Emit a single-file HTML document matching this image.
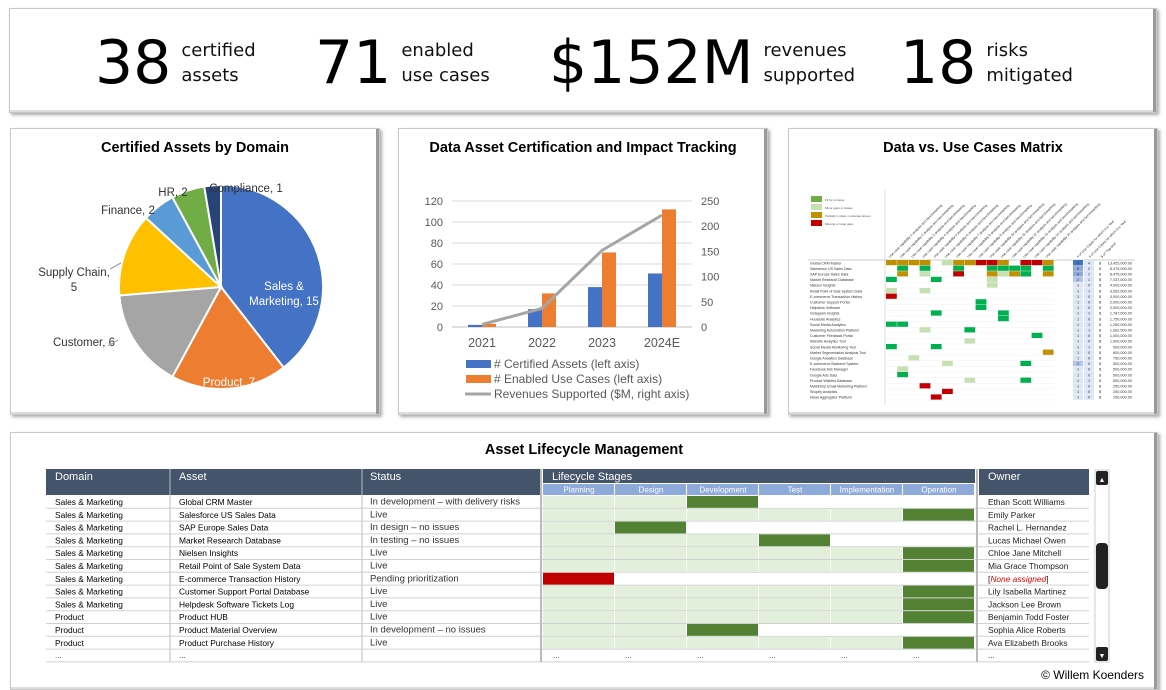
<!DOCTYPE html>
<html><head><meta charset="utf-8"><style>
body{margin:0;width:1166px;height:690px;background:#fff;font-family:"Liberation Sans","DejaVu Sans",sans-serif;position:relative;overflow:hidden}
.panel{position:absolute;background:#fff;border:1px solid #c8c8c8;box-shadow:-3px 0 0 #9a9a9a inset,0 -2px 0 #ddd inset,2px 2px 3px #aaa}
.kpi{position:absolute;top:24px;display:flex;align-items:center}
.kpi .n{font-family:"DejaVu Sans",sans-serif;font-size:60px;color:#000;line-height:60px}
.kpi .l{font-family:"DejaVu Sans",sans-serif;font-size:18px;line-height:25px;margin-left:10px;color:#111}
.title{position:absolute;left:0;right:0;text-align:center;font-weight:bold;font-size:14.5px;color:#000}
svg text{font-family:"Liberation Sans","DejaVu Sans",sans-serif}
</style></head><body>
<div class="panel" style="left:9px;top:8px;width:1146px;height:103px">
<div class="kpi" style="left:85px"><span class="n">38</span><span class="l">certified<br>assets</span></div>
<div class="kpi" style="left:305px"><span class="n">71</span><span class="l">enabled<br>use cases</span></div>
<div class="kpi" style="left:539px"><span class="n">$152M</span><span class="l">revenues<br>supported</span></div>
<div class="kpi" style="left:890px"><span class="n">18</span><span class="l">risks<br>mitigated</span></div>
</div>

<div class="panel" style="left:10px;top:128px;width:368px;height:285px">
<div class="title" style="top:11px">Certified Assets by Domain</div>
</div>
<div class="panel" style="left:398px;top:128px;width:368px;height:285px">
<div class="title" style="top:11px">Data Asset Certification and Impact Tracking</div>
</div>
<div class="panel" style="left:788px;top:128px;width:368px;height:285px">
<div class="title" style="top:11px">Data vs. Use Cases Matrix</div>
</div>
<div class="panel" style="left:10px;top:432px;width:1146px;height:256px">
<div class="title" style="top:9px">Asset Lifecycle Management</div>
</div>
<div style="position:absolute;right:22px;top:668px;font-size:12px">© Willem Koenders</div>

<svg id="main" width="1166" height="690" style="position:absolute;left:0;top:0"></svg>

<script>
const NS="http://www.w3.org/2000/svg";
const svg=document.getElementById('main');
function mk(tag,attrs,parent){const e=document.createElementNS(NS,tag);for(const k in attrs)e.setAttribute(k,attrs[k]);(parent||svg).appendChild(e);return e;}
function txt(x,y,s,attrs,parent){const t=mk('text',Object.assign({x:x,y:y},attrs||{}),parent);t.textContent=s;return t;}

// ---------- Pie ----------
const pieLabels=["Sales & Marketing","Product","Customer","Supply Chain","Finance","HR","Compliance"];
const pieValues=[15,7,6,5,2,2,1];
const pieColors=["#4472c4","#ed7d31","#a5a5a5","#ffc000","#5b9bd5","#70ad47","#264478"];
const pcx=221,pcy=287,pr=102;
const ptotal=pieValues.reduce((a,b)=>a+b,0);
let ang=-Math.PI/2;
const labelPos=[[284,290,"middle",["Sales &","Marketing, 15"]],[229,386,"middle",["Product, 7"]],[84,346,"middle",["Customer, 6"]],[74,276,"middle",["Supply Chain,","5"]],[128,214,"middle",["Finance, 2"]],[173,196,"middle",["HR, 2"]],[246,192,"middle",["Compliance, 1"]]];
pieValues.forEach((v,i)=>{
  const a2=ang+v/ptotal*2*Math.PI;
  const x1=pcx+pr*Math.cos(ang),y1=pcy+pr*Math.sin(ang),x2=pcx+pr*Math.cos(a2),y2=pcy+pr*Math.sin(a2);
  const p=mk('path',{d:`M${pcx},${pcy}L${x1},${y1}A${pr},${pr} 0 ${a2-ang>Math.PI?1:0} 1 ${x2},${y2}Z`,fill:pieColors[i],stroke:'#fff','stroke-width':2});
  
  
  const L=labelPos[i];
  L[3].forEach((s,k)=>{const t=txt(L[0],L[1]+k*15,s,{'text-anchor':L[2],'font-size':11.5,fill:i==0||i==1?'#fff':'#333'});
    
    });
  ang=a2;
});
mk('line',{x1:110,y1:269,x2:121,y2:263,stroke:'#999'});
mk('line',{x1:108,y1:346,x2:118,y2:340,stroke:'#999'});

// ---------- Combo chart ----------
const years=["2021","2022","2023","2024E"];
const certAssets=[2,17,38,51];
const useCases=[3,32,71,112];
const revenues=[5,37,152,222];
const leftTicks=[0,20,40,60,80,100,120];
const rightTicks=[0,50,100,150,200,250];
const cx0=452,cx1=692,cy0=327,cy1=201;
const yL=v=>cy0-(v/120)*(cy0-cy1);
const yR=v=>cy0-(v/250)*(cy0-cy1);
const bw=(cx1-cx0)/years.length;
leftTicks.forEach(t=>{
  const g=mk('line',{x1:cx0,x2:cx1,y1:yL(t),y2:yL(t),stroke:t==0?'#bfbfbf':'#d9d9d9'});
  
  
  const l=txt(443,yL(t)+4,String(t),{'text-anchor':'end','font-size':11,fill:'#595959'});
  
  
});
rightTicks.forEach(t=>{
  const l=txt(701,yR(t)+4,String(t),{'font-size':11,fill:'#595959'});
  
  
});
const pts=[];
years.forEach((y,i)=>{
  const mid=cx0+bw*(i+0.5);
  const b1=mk('rect',{x:mid-14,y:yL(certAssets[i]),width:14,height:cy0-yL(certAssets[i]),fill:'#4472c4'});
  
  
  const b2=mk('rect',{x:mid,y:yL(useCases[i]),width:14,height:cy0-yL(useCases[i]),fill:'#ed7d31'});
  
  
  pts.push(mid+','+yR(revenues[i]));
  const l=txt(mid,347,y,{'text-anchor':'middle','font-size':12.5,fill:'#595959'});
  
  
});
const ln=mk('polyline',{points:pts.join(' '),fill:'none',stroke:'#a5a5a5','stroke-width':3});


const legItems=[["# Certified Assets (left axis)","#4472c4",0],["# Enabled Use Cases (left axis)","#ed7d31",0],["Revenues Supported ($M, right axis)","#a5a5a5",1]];
legItems.forEach((it,i)=>{
  const y=364+i*15;
  if(it[2]) mk('line',{x1:465,x2:491,y1:y,y2:y,stroke:it[1],'stroke-width':3});
  else mk('rect',{x:466,y:y-4,width:25,height:8,fill:it[1]});
  const t=txt(494,y+4,it[0],{'font-size':12,fill:'#595959'});
  
  
});

// ---------- Matrix ----------
const matrixRows=["Global CRM Master","Salesforce US Sales Data","SAP Europe Sales Data","Market Research Database","Nielsen Insights","Retail Point of Sale System Data","E-commerce Transaction History","Customer Support Portal","Helpdesk Software","Instagram Insights","Hootsuite Analytics","Social Media Analytics","Marketing Automation Platform","Customer Feedback Portal","Website Analytics Tool","Social Media Monitoring Tool","Market Segmentation Analysis Tool","Google Analytics Database","E-commerce Backend System","Facebook Ads Manager","Google Ads Data","Product Wishlist Database","Mailchimp Email Marketing Platform","Shopify Analytics","News Aggregator Platform"];
const matrixCells=["OOOO.LOORRO.RRO",".G.G..G..GGGG.G",".O.L..R..OLOG.O","G...G....L.....",".........L.....","L..L...........","R..............","........G......","........G......","....G.....G....","..........G....","GG.............","...L...G.......",".............G.",".......L.......","G...G..........","..............O","..L............",".....L......G..",".L.............",".G.............",".......L....G..","...R...........",".....R.........","....R.........."];
const matrixUses=[9,6,6,2,1,1,1,1,1,1,1,1,1,1,1,1,1,1,2,1,1,1,1,1,1];
const matrixLive=[4,2,2,1,0,1,0,0,0,1,0,1,1,0,0,1,0,0,0,0,0,1,0,0,0];
const matrixRev=["13,425,000.00","8,475,000.00","8,475,000.00","7,037,500.00","4,000,000.00","3,062,500.00","3,000,000.00","2,000,000.00","2,000,000.00","1,787,500.00","1,750,000.00","1,250,000.00","1,062,500.00","1,000,000.00","1,000,000.00","900,000.00","800,000.00","750,000.00","500,000.00","500,000.00","500,000.00","500,000.00","250,000.00","250,000.00","150,000.00"];
const cellColors={G:'#00b050',L:'#c6e0b4',O:'#bf9000',R:'#c00000'};
const mx0=886,my0=260,mcw=11.2,mrh=5.6;
mk('line',{x1:885,x2:885,y1:190,y2:405,stroke:'#bbb','stroke-width':0.5});
mk('line',{x1:808,x2:1135,y1:my0,y2:my0,stroke:'#ccc','stroke-width':1});
[["Fit for purpose","#70ad47"],["Minor gaps or issues","#c6e0b4"],["Partially in place; moderate issues","#bf9000"],["Missing or large gaps","#c00000"]].forEach((l,i)=>{
  mk('rect',{x:811,y:196+i*8,width:11,height:6,fill:l[1]});
  txt(825,201+i*8,l[0],{'font-size':3,fill:'#555'});
});
for(let c=0;c<15;c++){
  txt(0,0,"Use case capability "+(c+1)+" analysis and benchmarking",{'font-size':3.4,fill:'#333',transform:`translate(${mx0+c*mcw+4},${my0-2}) rotate(-45)`});
}
["# of Use Cases for which it is \"live\"","# of Use Cases for which it is \"live\"","$ of \"Top-line\""].forEach((s,i)=>txt(0,0,s,{'font-size':3.4,fill:'#333',transform:`translate(${1078+i*12},${my0-2}) rotate(-45)`}));
matrixRows.forEach((name,r)=>{
  const y=my0+r*mrh;
  const t=txt(810,y+4.3,name,{'font-size':3.6,fill:'#333'});
  
  
  mk('line',{x1:mx0,x2:mx0+15*mcw,y1:y+mrh,y2:y+mrh,stroke:'#eee','stroke-width':0.4});
  for(let c=0;c<15;c++){
    const ch=matrixCells[r][c];
    if(ch!=='.'){
      const cell=mk('rect',{x:mx0+c*mcw,y:y,width:mcw-0.4,height:mrh-0.4,fill:cellColors[ch]});
      
      
    }
  }
  const u=matrixUses[r];
  mk('rect',{x:1073,y:y,width:10,height:mrh-0.3,fill:u>=9?'#4472c4':u>=6?'#8ea9db':u>=2?'#b4c6e7':'#dde6f5'});
  mk('rect',{x:1084,y:y,width:10,height:mrh-0.3,fill:'#dde6f5'});
  txt(1078,y+4.3,String(u),{'font-size':3.8,fill:'#333','text-anchor':'middle'});
  txt(1089,y+4.3,String(matrixLive[r]),{'font-size':3.8,fill:'#333','text-anchor':'middle'});
  txt(1099,y+4.3,"$",{'font-size':3.8,fill:'#333'});
  txt(1132,y+4.3,matrixRev[r],{'font-size':3.8,fill:'#333','text-anchor':'end'});
});

// ---------- Lifecycle table ----------
const tDomains=["Sales & Marketing","Sales & Marketing","Sales & Marketing","Sales & Marketing","Sales & Marketing","Sales & Marketing","Sales & Marketing","Sales & Marketing","Sales & Marketing","Product","Product","Product"];
const tAssets=["Global CRM Master","Salesforce US Sales Data","SAP Europe Sales Data","Market Research Database","Nielsen Insights","Retail Point of Sale System Data","E-commerce Transaction History","Customer Support Portal Database","Helpdesk Software Tickets Log","Product HUB","Product Material Overview","Product Purchase History"];
const tStatus=["In development – with delivery risks","Live","In design – no issues","In testing – no issues","Live","Live","Pending prioritization","Live","Live","Live","In development – no issues","Live"];
const tStage=[2,5,1,3,5,5,0,5,5,5,2,5];
const tRed=[0,0,0,0,0,0,1,0,0,0,0,0];
const tOwner=["Ethan Scott Williams","Emily Parker","Rachel L. Hernandez","Lucas Michael Owen","Chloe Jane Mitchell","Mia Grace Thompson","","Lily Isabella Martinez","Jackson Lee Brown","Benjamin Todd Foster","Sophia Alice Roberts","Ava Elizabeth Brooks"];
const stages=["Planning","Design","Development","Test","Implementation","Operation"];
const hdr='#44546a';
mk('rect',{x:46,y:469,width:494,height:26,fill:hdr});
mk('rect',{x:543,y:469,width:432,height:14,fill:hdr});
mk('rect',{x:979,y:469,width:110,height:26,fill:hdr});
[["Domain",55],["Asset",179],["Status",370]].forEach(h=>{const t=txt(h[1],480,h[0],{'font-size':11,fill:'#fff'});});
txt(552,480,"Lifecycle Stages",{'font-size':11,fill:'#fff'});
txt(988,480,"Owner",{'font-size':11,fill:'#fff'});
mk('line',{x1:170,x2:170,y1:469,y2:662,stroke:'#bbb'});
mk('line',{x1:362,x2:362,y1:469,y2:662,stroke:'#bbb'});
const sw=72;
stages.forEach((s,i)=>{
  mk('rect',{x:543+i*sw,y:484,width:sw-1,height:11,fill:'#8eaadb'});
  const t=txt(543+i*sw+sw/2,492.5,s,{'font-size':8,fill:'#fff','text-anchor':'middle'});
  
  
});
const rh=12.8,ry0=495.5;
for(let r=0;r<13;r++){
  const y=ry0+r*rh;
  mk('line',{x1:46,x2:1089,y1:y+rh,y2:y+rh,stroke:'#d0d0d0'});
  if(r==12){
    [55,179].forEach(x=>txt(x,y+9,"...",{'font-size':8,fill:'#333'}));
    stages.forEach((s,i)=>txt(553+i*sw,y+9,"...",{'font-size':8,fill:'#333'}));
    txt(988,y+9,"...",{'font-size':8,fill:'#333'});
    continue;
  }
  const d=txt(55,y+9.5,tDomains[r],{'font-size':8.4,fill:'#000'});
  
  
  const a=txt(179,y+9.5,tAssets[r],{'font-size':8.4,fill:'#000'});
  
  
  const st=txt(370,y+9,tStatus[r],{'font-size':9.5,fill:'#333'});
  
  
  for(let i=0;i<6;i++){
    let f='#ffffff';
    if(i<tStage[r]) f='#e2efda';
    if(i==tStage[r]) f=tRed[r]?'#c00000':'#548235';
    const c=mk('rect',{x:543+i*sw,y:y+0.5,width:sw-1,height:rh-1,fill:f});
    
    
  }
  if(tOwner[r]){
    const o=txt(988,y+9.5,tOwner[r],{'font-size':8.4,fill:'#222'});
    
    
  } else {
    const o=txt(988,y+9.5,"",{'font-size':8.4,fill:'#222'});
    o.innerHTML='[<tspan fill="#e00000" font-style="italic">None assigned</tspan>]';
    
    
  }
}
mk('line',{x1:541,x2:541,y1:469,y2:662,stroke:'#bbb','stroke-width':2});
mk('line',{x1:977,x2:977,y1:469,y2:662,stroke:'#bbb','stroke-width':2});
// scrollbar
const sb=mk('rect',{x:1095,y:470,width:14,height:192,fill:'#fff',stroke:'#ccc'});


const up=mk('rect',{x:1096,y:471,width:12,height:14,rx:2,fill:'#222'});


txt(1102,482,"▲",{'font-size':7,fill:'#fff','text-anchor':'middle'});
const th=mk('rect',{x:1096,y:543,width:12,height:46,rx:4,fill:'#222'});


const dn=mk('rect',{x:1096,y:647,width:12,height:14,rx:2,fill:'#222'});


txt(1102,658,"▼",{'font-size':7,fill:'#fff','text-anchor':'middle'});
</script>
</body></html>
